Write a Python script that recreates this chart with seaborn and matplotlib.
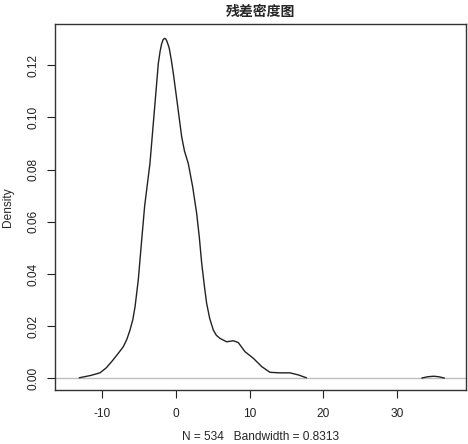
import numpy as np
import pandas as pd
import matplotlib
matplotlib.use("Agg")
import matplotlib.pyplot as plt
import seaborn as sns

# density curve (x = residual, y = density)
resid_x = [-13.05, -11.5, -10.24, -9.4, -8.66, -7.9, -7.09, -6.6, -6.18, -5.8,
           -5.5, -5.06, -4.6, -4.2, -3.48, -2.8, -2.35, -2.1, -1.9, -1.7,
           -1.54, -1.35, -1.2, -1.05, -0.87, -0.6, -0.32, 0.22, 0.81, 1.2,
           1.7, 2.3, 2.84, 3.2, 3.52, 3.9, 4.19, 4.6, 5.09, 5.5,
           6.0, 6.9, 7.8, 8.47, 9.38, 10.5, 11.64, 12.76, 14.1, 15.47,
           16.6, 17.7]
density_y = [0.0002, 0.0011, 0.0021, 0.0040, 0.0064, 0.0091, 0.0121, 0.0150, 0.0185, 0.0225,
             0.0274, 0.0377, 0.0530, 0.0660, 0.0824, 0.1054, 0.1207, 0.1255, 0.1282, 0.1298,
             0.1303, 0.1301, 0.1293, 0.1281, 0.1265, 0.1222, 0.1169, 0.1054, 0.0926, 0.0870,
             0.0824, 0.0734, 0.0632, 0.0540, 0.0441, 0.0350, 0.0287, 0.0230, 0.0185, 0.0165,
             0.0153, 0.0140, 0.0144, 0.0137, 0.0102, 0.0077, 0.0045, 0.0023, 0.0021, 0.0021,
             0.0013, 0.0002]

# small outlier bump on the right
bump_x = [33.3, 34.1, 34.9, 35.6, 36.35]
bump_y = [0.0001, 0.0006, 0.0008, 0.0006, 0.0001]

x_ticks = [-10, 0, 10, 20, 30]
y_ticks = [0.00, 0.02, 0.04, 0.06, 0.08, 0.10, 0.12]

title = "残差密度图"
xlabel = "N = 534   Bandwidth = 0.8313"
ylabel = "Density"

sns.set_style("white")
plt.rcParams['font.family'] = ['Liberation Sans', 'Noto Sans CJK SC', 'DejaVu Sans']

main = pd.DataFrame({"x": resid_x, "y": density_y})
tail = pd.DataFrame({"x": bump_x, "y": bump_y})

fig = plt.figure(figsize=(4.68, 4.44), dpi=100)
ax = fig.add_axes([0.1175, 0.1216, 0.8782, 0.8237])

ax.axhline(0, color="#bebebe", lw=1.0, zorder=1)
sns.lineplot(data=main, x="x", y="y", sort=False, color="#222222", lw=1.0, ax=ax)
sns.lineplot(data=tail, x="x", y="y", sort=False, color="#222222", lw=1.0, ax=ax)

ax.set_xlim(-16.33, 39.28)
ax.set_ylim(-0.00448, 0.1357)
ax.set_xticks(x_ticks)
ax.set_yticks(y_ticks)
ax.set_xticklabels([str(v) for v in x_ticks])
ax.set_yticklabels(["%.2f" % v for v in y_ticks], rotation=90, va="center")
ax.tick_params(axis="both", direction="out", length=6, width=0.8, labelsize=8.6,
               colors="#222222", pad=5, bottom=True, left=True)
ax.tick_params(axis="x", pad=7)

for s in ax.spines.values():
    s.set_color("#333333")
    s.set_linewidth(1.0)

ax.set_xlabel(xlabel, fontsize=8.6, labelpad=8)
ax.set_ylabel(ylabel, fontsize=8.6, labelpad=10)
ax.set_title(title, fontsize=10, fontweight="bold", pad=6,
             family=['Noto Sans CJK SC', 'DejaVu Sans'])

fig.savefig("out.png", dpi=100)
